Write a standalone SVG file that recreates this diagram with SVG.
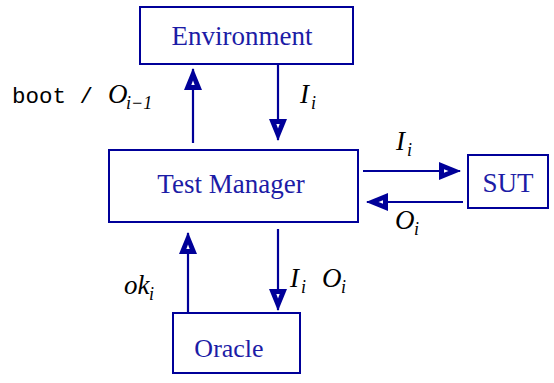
<svg xmlns="http://www.w3.org/2000/svg" width="554" height="383" viewBox="0 0 554 383">
<defs>
<marker id="ah" viewBox="0 0 22 18" refX="21" refY="9" markerWidth="22" markerHeight="18" markerUnits="userSpaceOnUse" orient="auto">
<path d="M0,0 L22,9 L0,18 z" fill="#000099"/>
<path d="M5,7.3 L9.5,9 L5,10.7 z" fill="#fff"/>
</marker>
</defs>
<g id="connectors" stroke="#000099" stroke-width="2.2" fill="none" marker-end="url(#ah)">
<line x1="193" y1="143" x2="193" y2="69"/>
<line x1="278" y1="65" x2="278" y2="140"/>
<line x1="363" y1="171" x2="460" y2="171"/>
<line x1="463" y1="202" x2="367" y2="202"/>
<line x1="188" y1="313" x2="188" y2="233"/>
<line x1="278" y1="229" x2="278" y2="310"/>
</g>
<g id="labels" fill="#000">
<text font-family="Liberation Mono" font-size="22.5" x="12" y="103">boot /</text>
<g font-family="Liberation Serif" font-style="italic" font-size="27">
<text x="108" y="103">O</text>
<text x="300" y="103">I</text>
<text x="396" y="150">I</text>
<text x="395" y="229">O</text>
<text x="124" y="294">ok</text>
<text x="290" y="287">I</text>
<text x="322" y="287">O</text>
</g>
<g font-family="Liberation Serif" font-style="italic" font-size="18">
<text x="126" y="109">i−1</text>
<text x="311" y="109">i</text>
<text x="407" y="156">i</text>
<text x="414" y="235">i</text>
<text x="149" y="300">i</text>
<text x="301" y="293">i</text>
<text x="341" y="293">i</text>
</g>
</g>
<g id="environment">
<rect x="140" y="7" width="213" height="57" fill="#fff" stroke="#000099" stroke-width="2"/>
<text font-family="Liberation Serif" font-size="27" fill="#1c1ca6" text-anchor="middle" x="242" y="45">Environment</text>
</g>
<g id="test-manager">
<rect x="109" y="150" width="249" height="72" fill="#fff" stroke="#000099" stroke-width="2"/>
<text font-family="Liberation Serif" font-size="27" fill="#1c1ca6" text-anchor="middle" x="231" y="193">Test Manager</text>
</g>
<g id="sut">
<rect x="468" y="155" width="80" height="53" fill="#fff" stroke="#000099" stroke-width="2"/>
<text font-family="Liberation Serif" font-size="27" fill="#1c1ca6" text-anchor="middle" x="508" y="192">SUT</text>
</g>
<g id="oracle">
<rect x="173" y="313" width="127" height="60" fill="#fff" stroke="#000099" stroke-width="2"/>
<text font-family="Liberation Serif" font-size="26" fill="#1c1ca6" text-anchor="middle" x="229" y="357">Oracle</text>
</g>
</svg>
